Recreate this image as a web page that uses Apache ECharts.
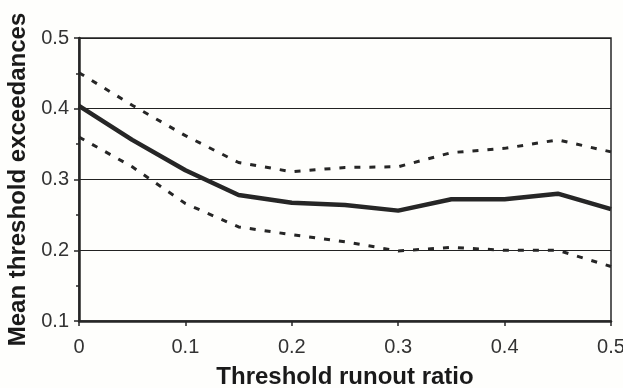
<!DOCTYPE html>
<html>
<head>
<meta charset="utf-8">
<script src="https://cdn.jsdelivr.net/npm/echarts@6/dist/echarts.min.js"></script>
<style>
html,body{margin:0;padding:0;background:#fefefc;}
#chart{width:623px;height:388px;}
</style>
</head>
<body>
<div id="chart"></div>
<script>
const ratios = [0, 0.05, 0.1, 0.15, 0.2, 0.25, 0.3, 0.35, 0.4, 0.45, 0.5];
const meanValues  = [0.404, 0.356, 0.313, 0.278, 0.267, 0.264, 0.256, 0.272, 0.272, 0.280, 0.258];
const upperValues = [0.451, 0.405, 0.362, 0.324, 0.311, 0.317, 0.318, 0.338, 0.344, 0.356, 0.339];
const lowerValues = [0.360, 0.318, 0.266, 0.233, 0.222, 0.212, 0.199, 0.204, 0.200, 0.200, 0.177];

const pair = arr => ratios.map((x, i) => [x, arr[i]]);
const ink = '#262626';
const font = 'Liberation Sans, Arial, sans-serif';

const chart = echarts.init(document.getElementById('chart'));
chart.setOption({
  backgroundColor: '#fefefc',
  animation: false,
  grid: { left: 79, right: 12, top: 38, bottom: 67, containLabel: false, outerBoundsMode: 'none', show: true, borderColor: ink, borderWidth: 1.5, backgroundColor: 'transparent' },
  xAxis: {
    type: 'value', min: 0, max: 0.5, interval: 0.1,
    name: 'Threshold runout ratio', nameLocation: 'middle', nameGap: 44,
    nameTextStyle: { fontFamily: font, fontWeight: 'bold', fontSize: 24, color: '#1a1a1a' },
    axisLine: { show: true, lineStyle: { color: ink, width: 2.5 } },
    axisTick: { show: true, length: 5, lineStyle: { color: ink, width: 1.5 } },
    axisLabel: { margin: 16, fontFamily: font, fontSize: 20, color: '#333' },
    splitLine: { show: false }
  },
  yAxis: {
    type: 'value', min: 0.1, max: 0.5, interval: 0.1,
    name: 'Mean threshold exceedances', nameLocation: 'middle', nameGap: 44,
    nameTextStyle: { fontFamily: font, fontWeight: 'bold', fontSize: 24, color: '#1a1a1a' },
    axisLine: { show: true, lineStyle: { color: ink, width: 2.5 } },
    axisTick: { show: true, length: 5, lineStyle: { color: ink, width: 1.5 } },
    minorTick: { show: true, splitNumber: 2, length: 3, lineStyle: { color: ink, width: 1.5 } },
    axisLabel: { margin: 10, fontFamily: font, fontSize: 20, color: '#333' },
    splitLine: { show: true, lineStyle: { color: '#222', width: 1 } }
  },
  series: [
    { type: 'line', data: pair(upperValues), symbol: 'none', lineStyle: { color: ink, width: 3, type: [6, 9] } },
    { type: 'line', data: pair(lowerValues), symbol: 'none', lineStyle: { color: ink, width: 3, type: [6, 9] } },
    { type: 'line', data: pair(meanValues), symbol: 'none', lineStyle: { color: ink, width: 4.5 } }
  ]
});
</script>
</body>
</html>
